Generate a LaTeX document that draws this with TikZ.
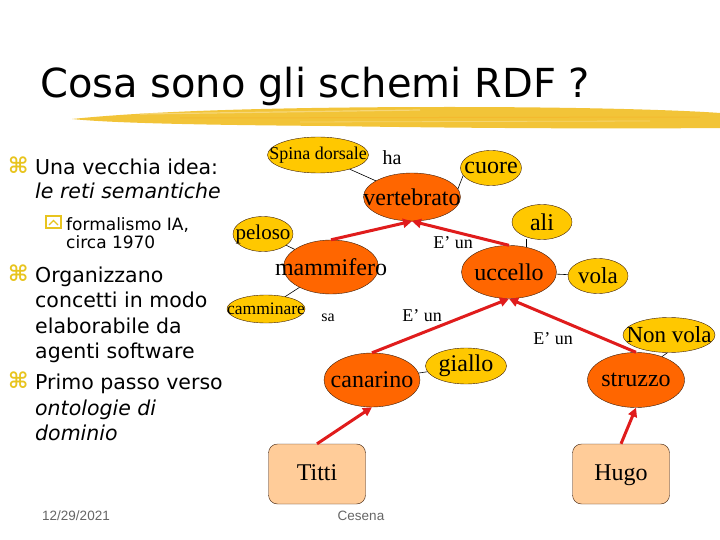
\documentclass[tikz,border=0pt]{standalone}
\usepackage{fontspec}
\setmainfont{Liberation Serif}
\setsansfont{DejaVu Sans}
\newfontfamily\footfont{Liberation Sans}
\usetikzlibrary{arrows.meta,shapes.geometric}
\definecolor{clsorange}{RGB}{255,102,0}
\definecolor{propgold}{RGB}{255,200,0}
\definecolor{instpeach}{RGB}{255,204,153}
\definecolor{isared}{RGB}{224,28,28}
\definecolor{bulyellow}{RGB}{232,196,30}
\definecolor{brushcol}{RGB}{242,196,56}
\definecolor{edgecol}{RGB}{60,30,10}
\tikzset{
  sz/.style 2 args={minimum width=#1,minimum height=#2},            % ellipse size
  cls/.style={ellipse,draw=edgecol,fill=clsorange,inner sep=0pt,
              font=\fontsize{24}{28}\selectfont},                    % class
  prop/.style={ellipse,draw=edgecol,fill=propgold,inner sep=0pt,
               font=\fontsize{24}{28}\selectfont},                   % property value
  inst/.style={rectangle,rounded corners=9,draw=edgecol,fill=instpeach,
               minimum width=97,minimum height=60,text height=16,text depth=4,
               font=\fontsize{24}{28}\selectfont},                   % instance
  isa/.style={-{Triangle[length=9pt,width=9pt]},isared,line width=3pt},% E' un
  rel/.style={black,line width=0.6pt},                                % property link
  lbl/.style={anchor=base,inner sep=0pt,font=\fontsize{18}{20}\selectfont},
  ttl/.style={anchor=base west,inner sep=0pt,font=\sffamily\fontsize{40}{44}\selectfont},
  txt/.style={anchor=base west,inner sep=0pt,font=\sffamily\fontsize{20.5}{25}\selectfont},
  subtxt/.style={anchor=base west,inner sep=0pt,font=\sffamily\fontsize{17}{18}\selectfont},
  bul/.style={anchor=base west,inner sep=0pt,bulyellow,font=\sffamily\bfseries\fontsize{22}{24}\selectfont},
  foot/.style={anchor=base,inner sep=0pt,gray!80!black,font=\footfont\fontsize{13.5}{15}\selectfont},
}
\newcommand{\tx}[1]{\makebox[0pt]{#1}}

\begin{document}
\begin{tikzpicture}[x=1pt,y=-1pt]
  \useasboundingbox (0,0) rectangle (720,540);
  \fill[white] (0,0) rectangle (720,540);
  % title with brush stroke
  \node[ttl] (title) at (40,98) {Cosa sono gli schemi RDF ?};
  \fill[brushcol] (72,119) .. controls (160,110) and (300,107) .. (450,107)
    .. controls (580,107) and (680,110) .. (720,113) -- (720,128)
    .. controls (600,129) and (450,128) .. (330,126)
    .. controls (200,125) and (110,123) .. (72,119) -- cycle;
  \draw[brushcol!55!white,line width=1.2,opacity=.7] (140,114) -- (420,110);
  \draw[brushcol!55!white,line width=0.8,opacity=.6] (300,122) -- (650,121);
  \draw[brushcol!70!orange,line width=1,opacity=.5] (180,118) -- (700,117);

  % bullet list
  \foreach \y [count=\i] in {175,282,389}
    \node[bul] (b\i) at (8,\y-1) {⌘};
  \foreach \y/\t [count=\i] in {175/Una vecchia idea:,199/\textit{le reti semantiche},
      282/Organizzano,307/concetti in modo,333/elaborabile da,358/agenti software,
      389/Primo passo verso,415/\textit{ontologie di},440/\textit{dominio}}
    \node[txt] (t\i) at (35,\y) {\t};
  \draw[bulyellow,line width=1.2] (46,216) rectangle (61,228);
  \draw[bulyellow,line width=1.2] (49,225) -- (53.5,220.5) -- (58,225);
  \node[subtxt] (s1) at (66,230) {formalismo IA,};
  \node[subtxt] (s2) at (66,248) {circa 1970};

  % semantic net
  \node[cls,sz={97}{48}] (vert) at (412,197) {\tx{vertebrato}};
  \node[cls,sz={95}{54}] (mamm) at (331,267) {\tx{mammifero}};
  \node[cls,sz={95}{53}] (ucc) at (509,272) {\tx{uccello}};
  \node[cls,sz={96}{54}] (can) at (372,380) {\tx{canarino}};
  \node[cls,sz={97}{55}] (str) at (636,380) {\tx{struzzo}};
  \node[prop,sz={101}{36},font=\fontsize{18}{20}\selectfont] (spina) at (318,155) {\tx{Spina dorsale}};
  \node[prop,sz={61}{35}] (cuore) at (491,168) {\tx{cuore}};
  \node[prop,sz={60}{35},font=\fontsize{21}{24}\selectfont] (pelo) at (263,234) {\tx{peloso}};
  \node[prop,sz={78}{28},font=\fontsize{17.5}{20}\selectfont] (camm) at (266,309) {\tx{camminare}};
  \node[prop,sz={60}{35}] (ali) at (542,222) {\tx{ali}};
  \node[prop,sz={60}{35},font=\fontsize{23}{26}\selectfont] (vola) at (598,276) {\tx{vola}};
  \node[prop,sz={81}{36}] (gial) at (466,366) {\tx{giallo}};
  \node[prop,sz={92}{35},font=\fontsize{23}{26}\selectfont] (nonvola) at (669,335) {\tx{Non vola}};
  \node[inst] (titti) at (317,474) {Titti};
  \node[inst] (hugo) at (621,474) {Hugo};

  % property links
  \draw[rel] (spina) -- (vert);
  \draw[rel] (vert.10) -- (cuore.195);
  \draw[rel] (pelo) -- (mamm);
  \draw[rel] (mamm) -- (camm);
  \draw[rel] (ucc.55) -- (ucc.55 |- ali.240);
  \draw[rel] (ucc) -- (vola);
  \draw[rel] (can) -- (gial);
  \draw[rel] (str.42) -- (nonvola.-95);

  % is-a links
  \draw[isa] (mamm.north) -- (vert.south);
  \draw[isa] (ucc.north) -- (vert.south);
  \draw[isa] (can.north) -- (ucc.south);
  \draw[isa] (str.north) -- (ucc.south);
  \draw[isa] (titti.north) -- (can.south);
  \draw[isa] (hugo.north) -- (str.south);

  % link labels
  \node[lbl,font=\fontsize{20}{22}\selectfont] (lha) at (392,165) {ha};
  \node[lbl,font=\fontsize{16}{18}\selectfont] (lsa) at (328,321) {sa};
  \node[lbl] (le1) at (453,248) {E’ un};
  \node[lbl] (le2) at (422,321) {E’ un};
  \node[lbl] (le3) at (553,344) {E’ un};

  % footer
  \node[foot] (date) at (76,520) {12/29/2021};
  \node[foot] (place) at (361,520) {Cesena};
\end{tikzpicture}
\end{document}
